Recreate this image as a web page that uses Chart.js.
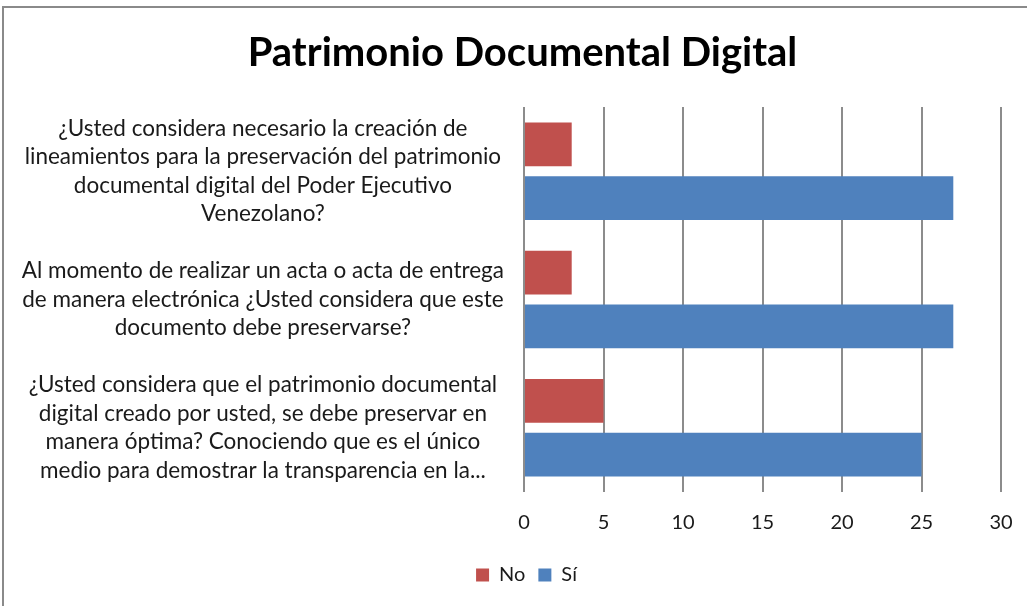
<!DOCTYPE html>
<html>
<head>
<meta charset="utf-8">
<script src="https://cdn.jsdelivr.net/npm/chart.js@4/dist/chart.umd.min.js"></script>
<style>
  html, body { margin: 0; padding: 0; background: #fff; overflow: hidden; }
  #wrap { position: relative; width: 1027px; height: 606px; }
  #frame { position: absolute; left: 2px; top: 6px; width: 1040px; height: 620px;
           border-left: 2px solid #8a8a8a; border-top: 2px solid #8a8a8a; pointer-events: none; }
  canvas { position: absolute; left: 0; top: 0; }
</style>
</head>
<body>
<div id="wrap">
  <canvas id="c" width="1027" height="606"></canvas>
  <div id="frame"></div>
</div>
<script>
const chartTitle = "Patrimonio Documental Digital";
const categories = [
  ["¿Usted considera necesario la creación de", "lineamientos para la preservación del patrimonio", "documental digital del Poder Ejecutivo", "Venezolano?"],
  ["Al momento de realizar un acta o acta de entrega", "de manera electrónica ¿Usted considera que este", "documento debe preservarse?"],
  ["¿Usted considera que el patrimonio documental", "digital creado por usted, se debe preservar en", "manera óptima? Conociendo que es el único", "medio para demostrar la transparencia en la..."]
];
const seriesNames = ["No", "Sí"];
const noValues = [3, 3, 5];
const siValues = [27, 27, 25];
const xTicks = [0, 5, 10, 15, 20, 25, 30];

const FONT = "Lato, 'Liberation Sans', sans-serif";
const TEXT = "#1a1a1a";
const PAD_RIGHT = 26;

const blockShift = {
  id: 'blockShift',
  afterLayout(chart) {
    if (chart.legend) { chart.legend.left += 26; chart.legend.right += 26; }
    if (chart.titleBlock) { chart.titleBlock.left += 22; chart.titleBlock.right += 22; }
  }
};

new Chart(document.getElementById('c'), {
  type: 'bar',
  data: {
    labels: categories,
    datasets: [
      { label: seriesNames[0], data: noValues, backgroundColor: '#C0504D' },
      { label: seriesNames[1], data: siValues, backgroundColor: '#4F81BD' }
    ]
  },
  plugins: [blockShift],
  options: {
    indexAxis: 'y',
    responsive: false,
    animation: false,
    devicePixelRatio: 1,
    categoryPercentage: 0.837,
    barPercentage: 0.815,
    layout: { padding: { left: 0, right: PAD_RIGHT, top: 0, bottom: 11 } },
    plugins: {
      title: {
        display: true,
        text: chartTitle,
        color: '#000',
        font: { family: FONT, size: 40, weight: 'bold', lineHeight: 1.2 },
        padding: { top: 29, bottom: 30 }
      },
      legend: {
        position: 'bottom',
        labels: {
          color: TEXT,
          font: { family: FONT, size: 20 },
          boxWidth: 13, boxHeight: 13, padding: 13
        }
      },
      tooltip: { enabled: false }
    },
    scales: {
      x: {
        min: 0, max: 30,
        afterBuildTicks: (s) => { s.ticks = xTicks.map(v => ({ value: v })); },
        afterFit: (s) => { s.height = 60; s.paddingLeft = 0; s.paddingRight = 0; },
        grid: { color: '#8c8c8c', lineWidth: 2, drawTicks: false },
        border: { display: false },
        ticks: { color: TEXT, font: { family: FONT, size: 20 }, padding: 19 }
      },
      y: {
        afterFit: (s) => { s.width = 524; },
        grid: { display: false },
        border: { display: false },
        ticks: {
          color: TEXT,
          crossAlign: 'center',
          padding: 12,
          autoSkip: false,
          font: { family: FONT, size: 22.5, lineHeight: 1.27 }
        }
      }
    }
  }
});
</script>
</body>
</html>
